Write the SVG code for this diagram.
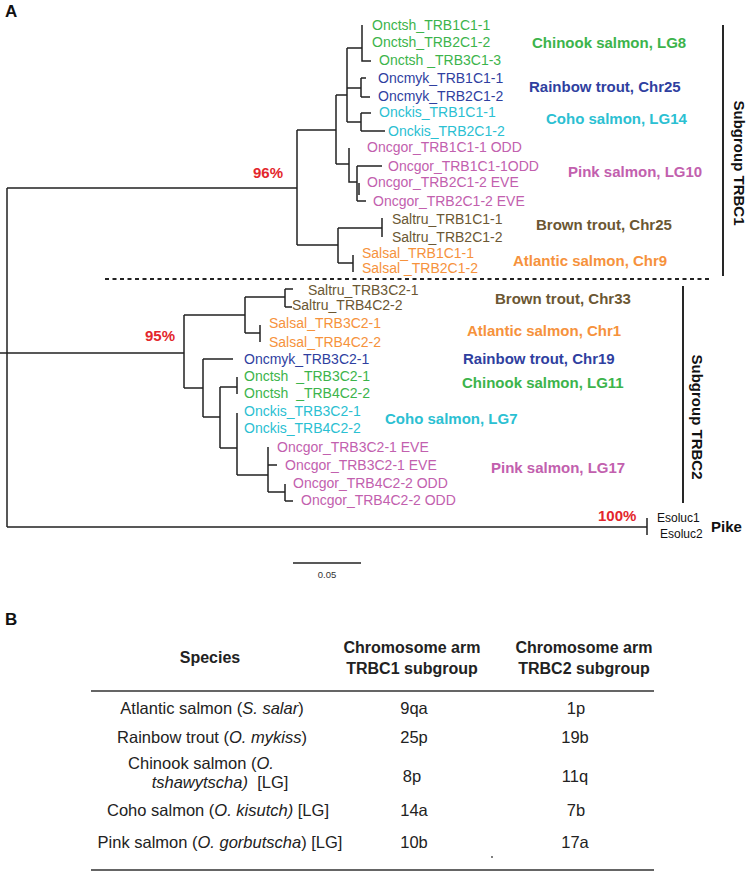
<svg xmlns="http://www.w3.org/2000/svg" width="750" height="871" viewBox="0 0 750 871">
<style>
text{font-family:"Liberation Sans",Arial,sans-serif}
.lf{font-size:14px}
.sp{font-size:15px;font-weight:bold}
.pc{font-size:15px;font-weight:bold;fill:#e3262c}
.g{fill:#3cb44b}.b{fill:#2f3f9f}.c{fill:#2bc0d2}.p{fill:#c260ae}.br{fill:#6b5733}.o{fill:#f6923c}
.tree{fill:none;stroke:#222;stroke-width:1.5}
.sub{stroke:#111;stroke-width:1.8}
.lab{font-size:17px;font-weight:bold;fill:#111}
.tb{font-size:16.5px;fill:#222;text-anchor:middle}
.th{font-size:16px;font-weight:bold;fill:#222;text-anchor:middle}
.rule{stroke:#333;stroke-width:1.5}
</style>
<text class="lab" x="5" y="17">A</text>
<g id="connectors" class="tree">
<path d="M7,188 V527 M7,188 H297 M0,353 H184 M7,527 H647 M647,518 V535"/>
<path d="M297,130 V245 M297,130 H336 M336,95 V164 M336,95 H347 M347,48 V122 M347,48 H362 M362,25 V61 H371 M347,88 H361 M361,78 V97 M361,78 H366 M361,97 H370 M347,122 H361 M361,113 V131 M361,113 H371 M361,131 H385"/>
<path d="M336,164 H349 M349,148 V182 H357 M357,166 V201 M357,166 H382 M357,201 H366 M359,183 V195"/>
<path d="M297,245 H338 M338,228 V263 M338,228 H382 M382,218 V237 M338,263 H353 M353,255 V272"/>
<path d="M184,315 V388 M184,315 H245 M245,297 V333 M245,297 H285 M285,289 V307 M285,289 H293 M285,307 H292 M245,333 H260 M260,325 V342"/>
<path d="M184,388 H203 M203,359 V417 M203,359 H233 M203,417 H220 M220,387 V448 M220,387 H237 M237,377 V394 M220,448 H237 M237,413 V475 M237,475 H268 M268,447 V492 M268,465 H277 M268,492 H285 M285,484 V501 M285,501 H293"/>
<path d="M105,279 H710" stroke-width="2.2" stroke-dasharray="4 3.5"/>
<path class="sub" d="M723,25 V276 M683,286 V503"/>
<path d="M293,563 H361" stroke-width="1.3"/>
</g>
<g id="trbc1-leaves" class="lf">
<text class="g" x="372" y="30">Onctsh_TRB1C1-1</text>
<text class="g" x="372" y="47">Onctsh_TRB2C1-2</text>
<text class="g" x="379" y="65">Onctsh _TRB3C1-3</text>
<text class="b" x="378" y="83">Oncmyk_TRB1C1-1</text>
<text class="b" x="378" y="101">Oncmyk_TRB2C1-2</text>
<text class="c" x="379" y="117">Onckis_TRB1C1-1</text>
<text class="c" x="388" y="136">Onckis_TRB2C1-2</text>
<text class="p" x="367" y="152">Oncgor_TRB1C1-1 ODD</text>
<text class="p" x="388" y="171">Oncgor_TRB1C1-1ODD</text>
<text class="p" x="367" y="187">Oncgor_TRB2C1-2 EVE</text>
<text class="p" x="373" y="206">Oncgor_TRB2C1-2 EVE</text>
<text class="br" x="392" y="224">Saltru_TRB1C1-1</text>
<text class="br" x="392" y="242">Saltru_TRB2C1-2</text>
<text class="o" x="362" y="258">Salsal_TRB1C1-1</text>
<text class="o" x="362" y="273">Salsal _TRB2C1-2</text>
</g>
<g id="trbc2-leaves" class="lf">
<text class="br" x="308" y="295">Saltru_TRB3C2-1</text>
<text class="br" x="292" y="310">Saltru_TRB4C2-2</text>
<text class="o" x="269" y="328">Salsal_TRB3C2-1</text>
<text class="o" x="269" y="347">Salsal_TRB4C2-2</text>
<text class="b" x="244" y="364">Oncmyk_TRB3C2-1</text>
<text class="g" x="244" y="381" xml:space="preserve">Onctsh  _TRB3C2-1</text>
<text class="g" x="244" y="398" xml:space="preserve">Onctsh  _TRB4C2-2</text>
<text class="c" x="244" y="416">Onckis_TRB3C2-1</text>
<text class="c" x="244" y="433">Onckis_TRB4C2-2</text>
<text class="p" x="277" y="452">Oncgor_TRB3C2-1 EVE</text>
<text class="p" x="285" y="470">Oncgor_TRB3C2-1 EVE</text>
<text class="p" x="293" y="488">Oncgor_TRB4C2-2 ODD</text>
<text class="p" x="301" y="505">Oncgor_TRB4C2-2 ODD</text>
</g>
<g id="species-labels" class="sp">
<text class="g" x="532" y="48">Chinook salmon, LG8</text>
<text class="b" x="529" y="92">Rainbow trout, Chr25</text>
<text class="c" x="546" y="124">Coho salmon, LG14</text>
<text class="p" x="568" y="177">Pink salmon, LG10</text>
<text class="br" x="536" y="230">Brown trout, Chr25</text>
<text class="o" x="513" y="266">Atlantic salmon, Chr9</text>
<text class="br" x="495" y="304">Brown trout, Chr33</text>
<text class="o" x="467" y="336">Atlantic salmon, Chr1</text>
<text class="b" x="463" y="364">Rainbow trout, Chr19</text>
<text class="g" x="462" y="388">Chinook salmon, LG11</text>
<text class="c" x="385" y="424">Coho salmon, LG7</text>
<text class="p" x="491" y="473">Pink salmon, LG17</text>
</g>
<g id="support">
<text class="pc" x="253" y="178">96%</text>
<text class="pc" x="145" y="341">95%</text>
<text class="pc" x="598" y="521">100%</text>
</g>
<g id="subgroups" class="sp" fill="#111">
<text transform="translate(734,163) rotate(90)" text-anchor="middle">Subgroup TRBC1</text>
<text transform="translate(692,417) rotate(90)" text-anchor="middle">Subgroup TRBC2</text>
</g>
<g id="pike">
<text x="657" y="522" font-size="12" fill="#111">Esoluc1</text>
<text x="660" y="538" font-size="12" fill="#111">Esoluc2</text>
<text x="711" y="532" class="sp" fill="#111">Pike</text>
</g>
<g id="scale">
<text x="327" y="578" font-size="9.5" fill="#333" text-anchor="middle">0.05</text>
</g>
<g id="table">
<text class="lab" x="5" y="625">B</text>
<text class="th" x="210" y="663">Species</text>
<text class="th" x="412" y="653">Chromosome arm</text>
<text class="th" x="412" y="674">TRBC1 subgroup</text>
<text class="th" x="584" y="653">Chromosome arm</text>
<text class="th" x="584" y="674">TRBC2 subgroup</text>
<path class="rule" d="M91,691 H654 M91,870 H654"/>
<text class="tb" x="212" y="714">Atlantic salmon (<tspan font-style="italic">S. salar</tspan>)</text>
<text class="tb" x="414" y="714">9qa</text>
<text class="tb" x="576" y="714">1p</text>
<text class="tb" x="212" y="743">Rainbow trout (<tspan font-style="italic">O. mykiss</tspan>)</text>
<text class="tb" x="414" y="743">25p</text>
<text class="tb" x="575" y="743">19b</text>
<text class="tb" x="201" y="769">Chinook salmon (<tspan font-style="italic">O.</tspan></text>
<text class="tb" x="220" y="788" xml:space="preserve"><tspan font-style="italic">tshawytscha)</tspan>  [LG]</text>
<text class="tb" x="412" y="782">8p</text>
<text class="tb" x="575" y="782">11q</text>
<text class="tb" x="218" y="816">Coho salmon (<tspan font-style="italic">O. kisutch)</tspan> [LG]</text>
<text class="tb" x="414" y="816">14a</text>
<text class="tb" x="576" y="816">7b</text>
<text class="tb" x="220" y="848">Pink salmon (<tspan font-style="italic">O. gorbutscha</tspan>) [LG]</text>
<text class="tb" x="414" y="848">10b</text>
<text class="tb" x="575" y="848">17a</text>
<circle cx="492" cy="857" r="0.9" fill="#444"/>
</g>
</svg>
